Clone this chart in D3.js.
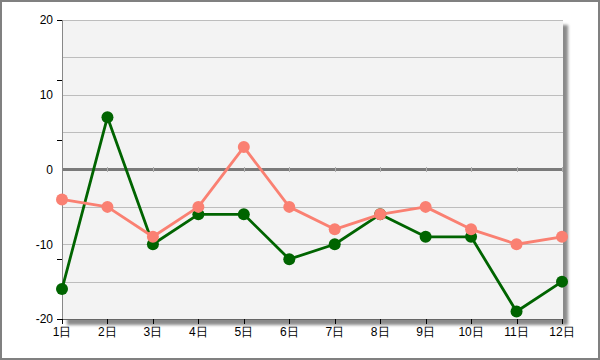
<!DOCTYPE html>
<html><head><meta charset="utf-8">
<script src="https://cdn.jsdelivr.net/npm/d3@7"></script>
<style>body{margin:0;background:#fff}svg{display:block}text{font-family:"Liberation Sans",Arial,sans-serif;font-size:12px;fill:#000}</style>
</head><body><svg id="c" width="600" height="360"></svg>
<script>
const categories = ["1日","2日","3日","4日","5日","6日","7日","8日","9日","10日","11日","12日"];
const seriesGreen = [-16, 7, -10, -6, -6, -12, -10, -6, -9, -9, -19, -15];
const seriesSalmon = [-4, -5, -9, -5, 3, -5, -8, -6, -5, -8, -10, -9];
const yLabels = [20, 10, 0, -10, -20];
const yTicks = [20, 12, 4, -4, -12, -20];
const yGrid = [20, 15, 10, 5, -5, -10, -15];

const svg = d3.select("#c");
const L = 62, R = 562, T = 20, B = 319;
const x = d3.scalePoint().domain(categories).range([L, R]);
const y = d3.scaleLinear().domain([-20, 20]).range([B, T]);

// outer border
svg.append("rect").attr("x",1).attr("y",1).attr("width",598).attr("height",358)
  .attr("fill","#fff").attr("stroke","#808080").attr("stroke-width",2);

// shadow
const defs = svg.append("defs");
defs.append("filter").attr("id","blur").attr("x","-5%").attr("y","-5%").attr("width","110%").attr("height","110%")
  .append("feGaussianBlur").attr("stdDeviation",1.6);
svg.append("rect").attr("x",L+5).attr("y",T+5).attr("width",R-L+1).attr("height",B-T+1)
  .attr("fill","#8a8a8a").attr("filter","url(#blur)");

// plot background
svg.append("rect").attr("x",L).attr("y",T).attr("width",R-L+1).attr("height",B-T)
  .attr("fill","#f3f3f3");

// gridlines
svg.append("g").selectAll("line").data(yGrid).join("line")
  .attr("x1",L).attr("x2",R+1).attr("y1",d=>Math.round(y(d))+0.5).attr("y2",d=>Math.round(y(d))+0.5)
  .attr("stroke","#bdbdbd").attr("stroke-width",1);

// zero line
svg.append("line").attr("x1",L).attr("x2",R+1).attr("y1",y(0)).attr("y2",y(0))
  .attr("stroke","#7a7a7a").attr("stroke-width",3);
svg.append("g").selectAll("line").data(categories).join("line")
  .attr("x1",d=>Math.round(x(d))+0.5).attr("x2",d=>Math.round(x(d))+0.5)
  .attr("y1",y(0)-2.5).attr("y2",y(0)+2.5).attr("stroke","#b0b0b0").attr("stroke-width",1);

// axes lines
svg.append("line").attr("x1",L+0.5).attr("x2",L+0.5).attr("y1",T).attr("y2",B+1)
  .attr("stroke","#888").attr("stroke-width",1);
svg.append("line").attr("x1",L).attr("x2",R+1).attr("y1",B+0.5).attr("y2",B+0.5)
  .attr("stroke","#666").attr("stroke-width",1);

// y ticks
svg.append("g").selectAll("line").data(yTicks).join("line")
  .attr("x1",L-5).attr("x2",L).attr("y1",d=>Math.round(y(d))+0.5).attr("y2",d=>Math.round(y(d))+0.5)
  .attr("stroke","#000").attr("stroke-width",1);
svg.append("g").selectAll("text").data(yLabels).join("text")
  .attr("x",53).attr("y",d=>y(d)).attr("dy","0.36em").attr("text-anchor","end").text(d=>d);

// x ticks
svg.append("g").selectAll("line").data(categories).join("line")
  .attr("x1",d=>Math.round(x(d))+0.5).attr("x2",d=>Math.round(x(d))+0.5)
  .attr("y1",B).attr("y2",B+5).attr("stroke","#000").attr("stroke-width",1);
svg.append("g").selectAll("text").data(categories).join("text")
  .attr("x",d=>x(d)).attr("y",336).attr("text-anchor","middle").text(d=>d);

// series
function drawSeries(vals, color){
  const g = svg.append("g");
  const line = d3.line().x((d,i)=>x(categories[i])).y(d=>y(d));
  g.append("path").datum(vals).attr("d",line).attr("fill","none")
    .attr("stroke",color).attr("stroke-width",2.8).attr("stroke-linejoin","round");
  g.selectAll("circle").data(vals).join("circle")
    .attr("cx",(d,i)=>x(categories[i])).attr("cy",d=>y(d)).attr("r",6).attr("fill",color);
}
drawSeries(seriesGreen, "#006400");
drawSeries(seriesSalmon, "#fa8072");
</script></body></html>
